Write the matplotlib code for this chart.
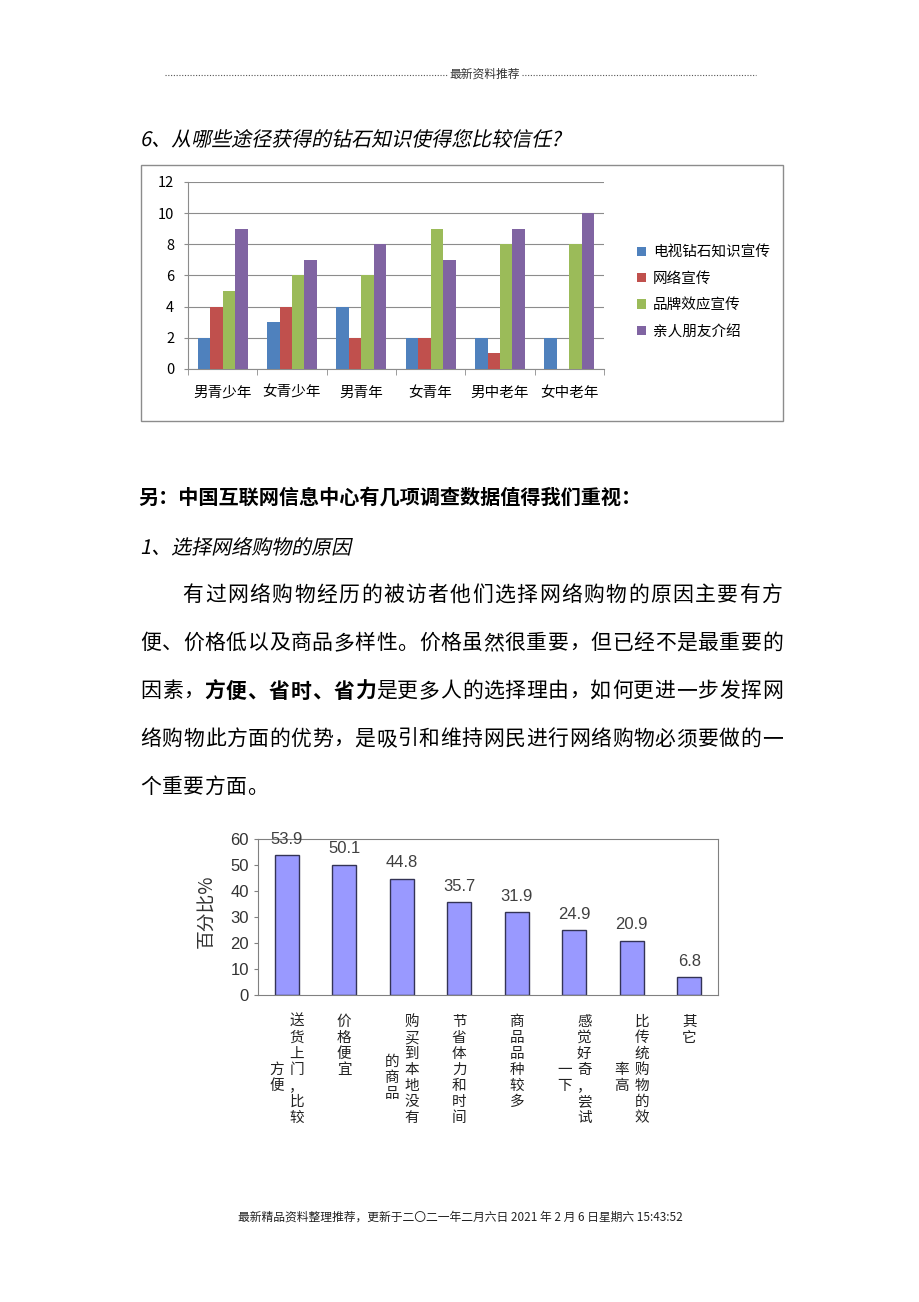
import numpy as np
import matplotlib.pyplot as plt
from matplotlib.textpath import TextPath
from matplotlib.patches import PathPatch, Rectangle
from matplotlib.font_manager import FontProperties
from matplotlib.transforms import Affine2D, IdentityTransform
from matplotlib.lines import Line2D

plt.rcParams['font.family'] = ['Noto Sans CJK SC', 'DejaVu Sans']

# Chart 1 data: which channel of diamond knowledge is trusted
groups = ['男青少年', '女青少年', '男青年', '女青年', '男中老年', '女中老年']
series_names = ['电视钻石知识宣传', '网络宣传', '品牌效应宣传', '亲人朋友介绍']
tv_vals = [2, 3, 4, 2, 2, 2]
web_vals = [4, 4, 2, 2, 1, 0]
brand_vals = [5, 6, 6, 9, 8, 8]
friend_vals = [9, 7, 8, 7, 9, 10]
series_colors = ['#4f81bd', '#c0504d', '#9bbb59', '#8064a2']

# Chart 2 data: reasons for online shopping (%)
reason_cols = [["送货上门，比较", "方便"], ["价格便宜"], ["购买到本地没有", "的商品"],
               ["节省体力和时间"], ["商品品种较多"], ["感觉好奇，尝试", "一下"],
               ["比传统购物的效", "率高"], ["其它"]]
reason_vals = [53.9, 50.1, 44.8, 35.7, 31.9, 24.9, 20.9, 6.8]

# page text
header = '最新资料推荐'
title1 = '6、从哪些途径获得的钻石知识使得您比较信任?'
note = '另：中国互联网信息中心有几项调查数据值得我们重视：'
title2 = '1、选择网络购物的原因'
para = ['有过网络购物经历的被访者他们选择网络购物的原因主要有方',
        '便、价格低以及商品多样性。价格虽然很重要，但已经不是最重要的',
        '因素，方便、省时、省力是更多人的选择理由，如何更进一步发挥网',
        '络购物此方面的优势，是吸引和维持网民进行网络购物必须要做的一',
        '个重要方面。']
footer = '最新精品资料整理推荐，更新于二〇二一年二月六日 2021 年 2 月 6 日星期六 15:43:52'

W, H = 920, 1302


def fx(x):
    return x / W


def fy(y):
    return 1 - y / H


fig = plt.figure(figsize=(W / 100, H / 100), dpi=100)


def italic_text(s, x, y_base, size):
    # fake italic by skewing the glyph outlines
    tp = TextPath((0, 0), s, size=size, prop=FontProperties(family='Noto Sans CJK SC'))
    tr = Affine2D().skew_deg(12, 0).translate(x, H - y_base)
    fig.add_artist(PathPatch(tr.transform_path(tp), transform=IdentityTransform(),
                             fc='black', lw=0))


# header
fig.text(fx(485), fy(74), header, fontsize=8.5, ha='center', va='center', color='#333333')
for x0, x1 in [(165, 448), (522, 756)]:
    fig.add_artist(Line2D([fx(x0), fx(x1)], [fy(75), fy(75)], transform=fig.transFigure,
                          ls=(0, (1, 1.5)), lw=0.8, color='#555555'))

italic_text(title1, 140, 146, 20)

# ---- chart 1 ----
fig.add_artist(Rectangle((fx(141), fy(421)), 642 / W, 256 / H, transform=fig.transFigure,
                         fill=False, ec='#8c8c8c', lw=1))
ax1 = fig.add_axes([fx(188), fy(369), 416 / W, 187 / H])
x = np.arange(len(groups))
bw = 0.18
for j, vals in enumerate([tv_vals, web_vals, brand_vals, friend_vals]):
    ax1.bar(x + (j - 1.5) * bw, vals, bw, color=series_colors[j], label=series_names[j], zorder=3)
ax1.set_xlim(-0.5, 5.5)
ax1.set_ylim(0, 12)
ax1.set_yticks(range(0, 13, 2))
ax1.yaxis.grid(True, color='#8c8c8c', lw=0.8)
ax1.set_xticks(x)
ax1.set_xticklabels(groups, fontsize=10.5)
ax1.set_xticks(np.arange(-0.5, 6, 1), minor=True)
ax1.tick_params(axis='x', which='major', length=0, pad=12)
ax1.tick_params(axis='x', which='minor', length=4, color='#8c8c8c')
ax1.tick_params(axis='y', length=3, color='#8c8c8c', labelsize=10.5, pad=7)
for s in ['top', 'right']:
    ax1.spines[s].set_visible(False)
for s in ['left', 'bottom']:
    ax1.spines[s].set_color('#8c8c8c')
ax1.legend(loc='center left', bbox_to_anchor=(fx(624), fy(292)), bbox_transform=fig.transFigure,
           frameon=False, fontsize=10.5, handlelength=0.6, handleheight=0.6,
           handletextpad=0.5, labelspacing=0.85)

# ---- text block ----
fig.text(fx(138), fy(497), note, fontsize=14.5, fontweight='bold', ha='left', va='center')
italic_text(title2, 140, 554, 20)

line_x0 = [182, 140, 140, 140, 140]
line_y = [595, 643, 691, 739, 787]
bold_line, bold_from, bold_to = 2, 3, 11
for li, line in enumerate(para):
    n = len(line)
    pitch = (783 - line_x0[li]) / n if li < len(para) - 1 else 21.4
    for ci, ch in enumerate(line):
        bold = li == bold_line and bold_from <= ci < bold_to
        fig.text(fx(line_x0[li] + pitch * (ci + 0.5)), fy(line_y[li]), ch, fontsize=15,
                 ha='center', va='center', fontweight='bold' if bold else 'normal')

# ---- chart 2 ----
ax2 = fig.add_axes([fx(258), fy(995), 460 / W, 156 / H])
xi = np.arange(len(reason_vals))
ax2.bar(xi, reason_vals, 0.42, color='#9999ff', edgecolor='#333355', lw=1)
ax2.set_xlim(-0.5, 7.5)
ax2.set_ylim(0, 60)
ax2.set_yticks(range(0, 61, 10))
ax2.set_xticks([])
ax2.tick_params(axis='y', length=3, labelsize=12, labelcolor='#333333', color='#808080')
for lab in ax2.get_yticklabels():
    lab.set_family('Liberation Sans')
for s in ax2.spines.values():
    s.set_color('#808080')
for i, v in enumerate(reason_vals):
    ax2.annotate(f'{v}', (i, v), xytext=(0, 6), textcoords='offset points', ha='center',
                 va='bottom', fontsize=12, family='Liberation Sans', color='#404040',
                 annotation_clip=False)
# vertical category labels, one character at a time
for i, cols in enumerate(reason_cols):
    for j, col in enumerate(cols):
        dx = 0 if len(cols) == 1 else (10 if j == 0 else -10)
        row0 = 0 if j == 0 else (len(cols[0]) - len(col)) / 2 + 0.5
        for k, ch in enumerate(col):
            ax2.annotate(ch, (i, 0), xycoords=('data', 'axes fraction'),
                         xytext=(dx * 0.72, -(27 + (row0 + k) * 16) * 0.72),
                         textcoords='offset points', ha='center', va='center',
                         fontsize=10.5, color='#222222', annotation_clip=False)
fig.text(fx(207), fy(911), '百分比%', rotation=90, fontsize=13.5, ha='center', va='center',
         color='#333333')

# footer
fig.text(fx(460), fy(1217), footer, fontsize=8.5, ha='center', va='center', color='#222222')

fig.savefig('out.png', dpi=100)
